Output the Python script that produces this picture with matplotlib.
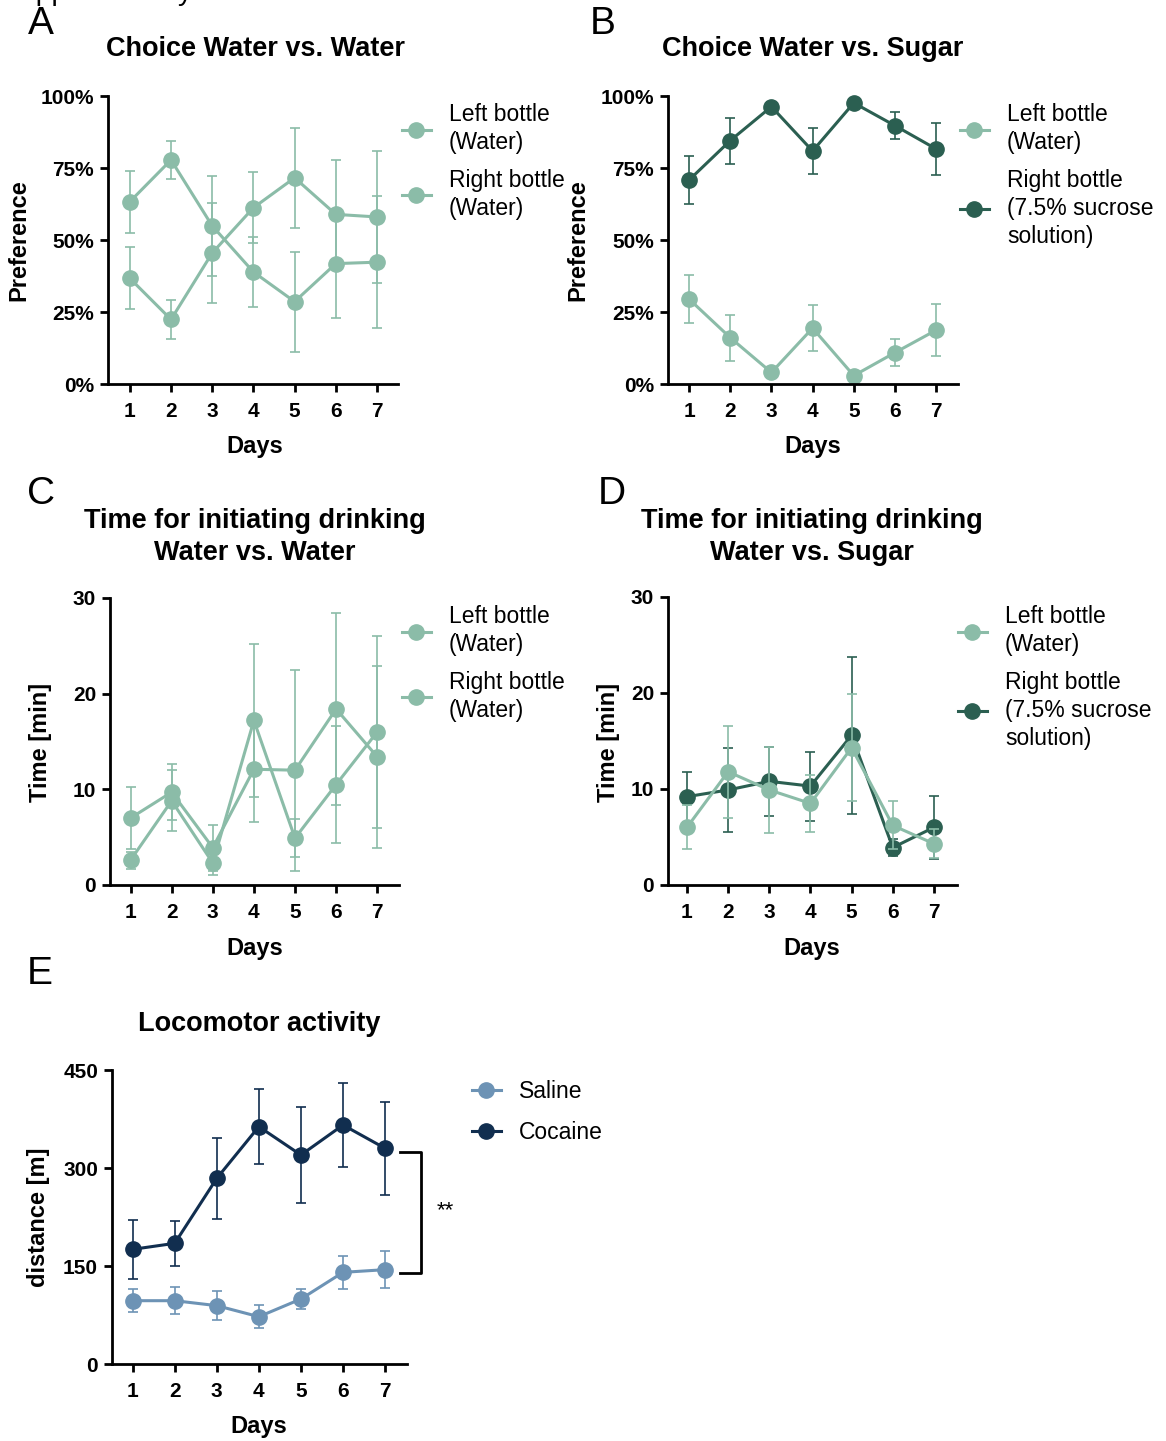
import matplotlib
matplotlib.use("Agg")
from matplotlib import pyplot as plt

plt.rcParams['font.family'] = ['Liberation Sans', 'DejaVu Sans']

W, H = 1166, 1441

days = [1, 2, 3, 4, 5, 6, 7]

# A - choice water vs water, preference in %
a_left = [63.3, 77.8, 54.9, 38.9, 28.6, 41.8, 42.3]
a_right = [36.7, 22.4, 45.5, 61.2, 71.6, 58.9, 58.0]
a_err = [10.7, 6.7, 17.4, 12.3, 17.4, 18.9, 22.9]

# B - choice water vs sugar, preference in %
b_left = [29.5, 16.1, 4.0, 19.4, 2.9, 10.9, 18.7]
b_left_err = [8.4, 8.0, 1.0, 7.9, 1.0, 4.6, 9.0]
b_right = [70.8, 84.5, 96.3, 80.9, 97.6, 89.7, 81.6]
b_right_err = [8.3, 8.0, 1.5, 8.0, 1.0, 4.7, 9.0]

# C - time for initiating drinking, water vs water (min)
c_left = [7.0, 9.7, 3.9, 12.1, 12.0, 18.4, 13.4]
c_left_err = [3.2, 2.9, 2.4, 5.5, 10.5, 10.0, 9.5]
c_right = [2.6, 8.8, 2.3, 17.2, 4.9, 10.5, 16.0]
c_right_err = [0.9, 3.2, 1.3, 8.0, 2.0, 6.1, 10.0]

# D - time for initiating drinking, water vs sugar (min)
d_left = [6.0, 11.8, 9.9, 8.5, 14.3, 6.2, 4.3]
d_left_err = [2.3, 4.8, 4.5, 3.0, 5.6, 2.5, 1.5]
d_right = [9.2, 9.9, 10.8, 10.3, 15.6, 3.9, 6.0]
d_right_err = [2.6, 4.4, 3.6, 3.6, 8.2, 0.9, 3.3]

# E - locomotor activity, distance (m)
saline = [96.9, 96.9, 89.3, 72.4, 99.5, 140.3, 144.4]
saline_err = [18, 21, 22, 18, 15, 25, 28]
cocaine = [175.5, 184.7, 284.2, 363.3, 319.9, 365.8, 330.1]
cocaine_err = [45, 34, 62, 57, 73, 64, 71]

LIGHT = '#8bbca8'
DARK = '#2b5f51'
SALINE = '#6d93b5'
COCAINE = '#112e4f'

LEG_FS = 16.5

fig = plt.figure(figsize=(W / 100, H / 100), dpi=100)


def px_axes(l, r, t, b):
    return fig.add_axes([l / W, 1 - b / H, (r - l) / W, (b - t) / H])


def ftext(x, y, s, **kw):
    fig.text(x / W, 1 - y / H, s, ha='center', va='center', **kw)


def style(ax, xlim, ylim, yticks, yticklabels):
    for s in ['top', 'right']:
        ax.spines[s].set_visible(False)
    for s in ['left', 'bottom']:
        ax.spines[s].set_linewidth(2.0)
    ax.set_xlim(xlim)
    ax.set_ylim(ylim)
    ax.set_xticks(days)
    ax.set_xticklabels([str(d) for d in days], fontweight='bold')
    ax.set_yticks(yticks)
    ax.set_yticklabels(yticklabels, fontweight='bold')
    ax.tick_params(direction='out', length=6, width=2.0, labelsize=15)
    ax.tick_params(axis='x', pad=7)
    ax.tick_params(axis='y', pad=4)


def series(ax, vals, errs, color, label):
    ax.errorbar(days, vals, yerr=errs, fmt='none', ecolor=color, elinewidth=1.2,
                capsize=3.5, capthick=1.2, clip_on=False)
    line, = ax.plot(days, vals, '-o', color=color, lw=2.2, ms=11, label=label, clip_on=False)
    return line


def legend(ax, handles, labels, x, y, spacing):
    leg = ax.legend(handles, labels, loc='upper left', bbox_to_anchor=(x / W, 1 - y / H),
                    bbox_transform=fig.transFigure, frameon=False, fontsize=LEG_FS,
                    borderaxespad=0, borderpad=0, handlelength=1.25,
                    handletextpad=0.8, labelspacing=spacing)
    for t in leg.get_texts():
        t.set_linespacing(1.3)
    return leg


pct_ticks = [0, 25, 50, 75, 100]
pct_labels = ['0%', '25%', '50%', '75%', '100%']
water_lbl = 'Left bottle\n(Water)'
water_r_lbl = 'Right bottle\n(Water)'
sugar_lbl = 'Right bottle\n(7.5% sucrose\nsolution)'

# Panel A
ax = px_axes(108, 398, 96, 384)
h1 = series(ax, a_left, a_err, LIGHT, water_lbl)
h2 = series(ax, a_right, a_err, LIGHT, water_r_lbl)
style(ax, (0.47, 7.51), (0, 100), pct_ticks, pct_labels)
legend(ax, [h1, h2], [water_lbl, water_r_lbl], 402, 103, 0.62)

# Panel B
ax = px_axes(668, 958, 96, 384)
h1 = series(ax, b_left, b_left_err, LIGHT, water_lbl)
h2 = series(ax, b_right, b_right_err, DARK, sugar_lbl)
style(ax, (0.49, 7.53), (0, 100), pct_ticks, pct_labels)
legend(ax, [h1, h2], [water_lbl, sugar_lbl], 960, 103, 0.62)

# Panel C
ax = px_axes(110, 399, 598, 885)
h1 = series(ax, c_left, c_left_err, LIGHT, water_lbl)
h2 = series(ax, c_right, c_right_err, LIGHT, water_r_lbl)
style(ax, (0.5, 7.53), (0, 30), [0, 10, 20, 30], ['0', '10', '20', '30'])
legend(ax, [h1, h2], [water_lbl, water_r_lbl], 402, 605, 0.62)

# Panel D
ax = px_axes(668, 957, 597, 885)
h2 = series(ax, d_right, d_right_err, DARK, sugar_lbl)
h1 = series(ax, d_left, d_left_err, LIGHT, water_lbl)
style(ax, (0.54, 7.56), (0, 30), [0, 10, 20, 30], ['0', '10', '20', '30'])
legend(ax, [h1, h2], [water_lbl, sugar_lbl], 958, 605, 0.62)

# Panel E
ax = px_axes(112, 407, 1070, 1364)
h1 = series(ax, saline, saline_err, SALINE, 'Saline')
h2 = series(ax, cocaine, cocaine_err, COCAINE, 'Cocaine')
style(ax, (0.51, 7.52), (0, 450), [0, 150, 300, 450], ['0', '150', '300', '450'])
legend(ax, [h1, h2], ['Saline', 'Cocaine'], 472, 1080, 0.8)
ax.plot([7.36, 7.86, 7.86, 7.36], [324.5, 324.5, 139.3, 139.3], color='black', lw=2.0,
        clip_on=False)
ax.text(8.43, 234, '**', ha='center', va='center', fontsize=16)

# titles, labels and panel letters
title_kw = dict(fontsize=19.5, fontweight='bold')
ftext(255, 49, 'Choice Water vs. Water', **title_kw)
ftext(813, 49, 'Choice Water vs. Sugar', **title_kw)
ftext(255, 537, 'Time for initiating drinking\nWater vs. Water', linespacing=1.3, **title_kw)
ftext(812, 537, 'Time for initiating drinking\nWater vs. Sugar', linespacing=1.3, **title_kw)
ftext(259, 1024, 'Locomotor activity', **title_kw)

lab_kw = dict(fontsize=17, fontweight='bold')
for x, y in [(255, 446), (813, 446), (255, 948), (812, 948), (259, 1427)]:
    ftext(x, y, 'Days', **lab_kw)
ftext(19, 240, 'Preference', rotation=90, **lab_kw)
ftext(578, 240, 'Preference', rotation=90, **lab_kw)
ftext(40, 742, 'Time [min]', rotation=90, **lab_kw)
ftext(608, 742, 'Time [min]', rotation=90, **lab_kw)
ftext(38, 1217, 'distance [m]', rotation=90, **lab_kw)

for x, y, s in [(41, 24, 'A'), (603, 24, 'B'), (41, 494, 'C'), (612, 494, 'D'), (40, 974, 'E')]:
    ftext(x, y, s, fontsize=28)

# cut-off heading at the very top
fig.text(2 / W, 1.0, 'Supplementary', ha='left', va='baseline', fontsize=20.4)

fig.savefig('out.png', dpi=100)
